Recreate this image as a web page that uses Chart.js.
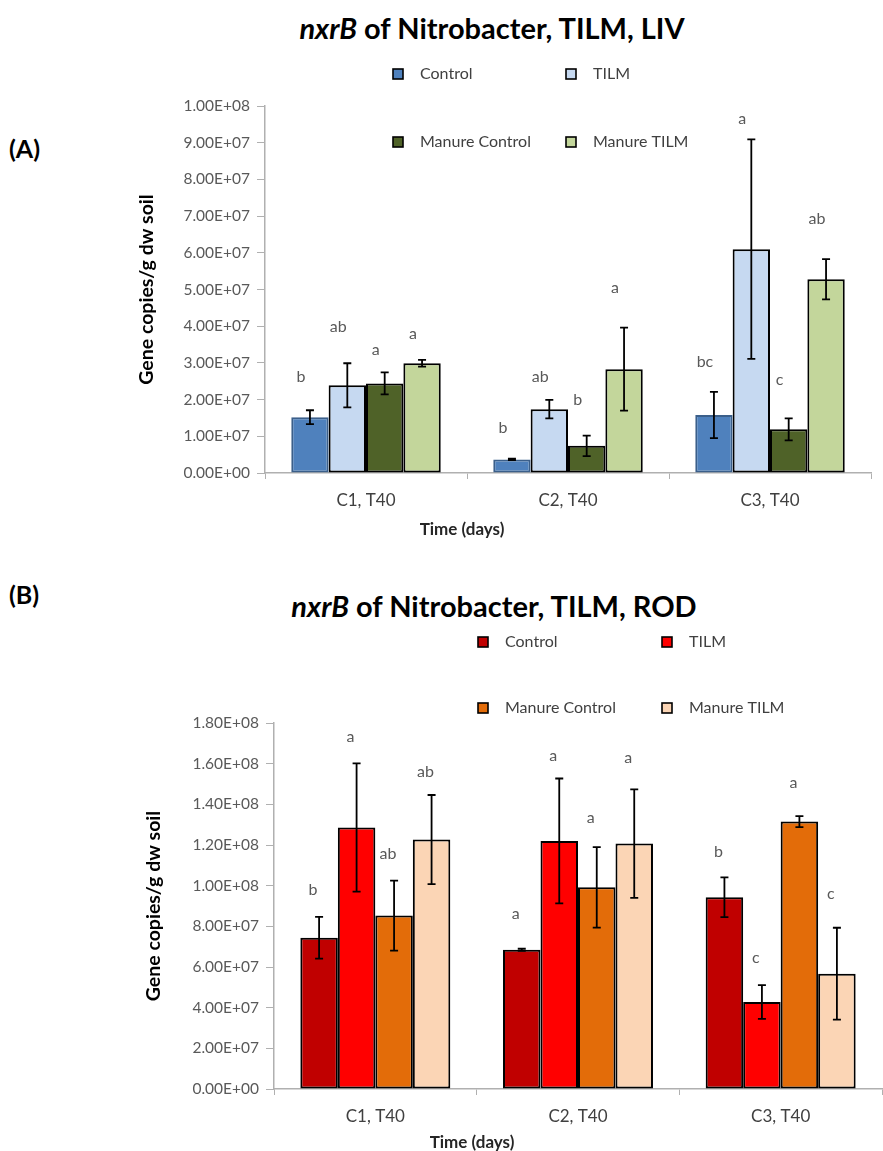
<!DOCTYPE html>
<html>
<head>
<meta charset="utf-8">
<script src="https://cdn.jsdelivr.net/npm/chart.js@4.4.1/dist/chart.umd.min.js"></script>
<style>
  body { margin: 0; background: #fff; width: 883px; height: 1151px; position: relative; overflow: hidden; font-family: Lato, 'Open Sans', sans-serif; }
  .wrap { position: absolute; left: 0; width: 883px; }
  #wrapA { top: 0; height: 560px; }
  #wrapB { top: 560px; height: 591px; }
  .title { position: absolute; font-weight: bold; font-size: 29px; color: #000; white-space: nowrap; transform: translate(-50%, -50%); }
  .panel { position: absolute; font-weight: bold; font-size: 25px; color: #000; transform: translateY(-50%); }
  .xtitle { position: absolute; font-weight: bold; font-size: 17px; color: #262626; white-space: nowrap; transform: translate(-50%, -50%); }
</style>
</head>
<body>
<div class="title" style="left:492px; top:27px;"><i>nxrB</i> of Nitrobacter, TILM, LIV</div>
<div class="panel" style="left:9px; top:148px;">(A)</div>
<div class="wrap" id="wrapA"><canvas id="chartA" width="883" height="560"></canvas></div>
<div class="xtitle" style="left:462px; top:528px;">Time (days)</div>

<div class="panel" style="left:9px; top:594px;">(B)</div>
<div class="title" style="left:494px; top:605px;"><i>nxrB</i> of Nitrobacter, TILM, ROD</div>
<div class="wrap" id="wrapB"><canvas id="chartB" width="883" height="591"></canvas></div>
<div class="xtitle" style="left:472px; top:1141px;">Time (days)</div>

<script>
const categories = ['C1, T40', 'C2, T40', 'C3, T40'];
const seriesNames = ['Control', 'TILM', 'Manure Control', 'Manure TILM'];

// (A) LIV - gene copies/g dw soil
const livControl = [1.52e7, 0.37e7, 1.58e7];
const livTilm = [2.39e7, 1.74e7, 6.10e7];
const livManureControl = [2.44e7, 0.74e7, 1.19e7];
const livManureTilm = [2.99e7, 2.83e7, 5.28e7];
const livControlErr = [0.19e7, 0.02e7, 0.63e7];
const livTilmErr = [0.60e7, 0.25e7, 2.99e7];
const livManureControlErr = [0.30e7, 0.28e7, 0.30e7];
const livManureTilmErr = [0.09e7, 1.13e7, 0.55e7];
const livControlLetters = ['b', 'b', 'bc'];
const livTilmLetters = ['ab', 'ab', 'a'];
const livManureControlLetters = ['a', 'b', 'c'];
const livManureTilmLetters = ['a', 'a', 'ab'];
const livControlLetterY = [2.62e7, 1.23e7, 3.02e7];
const livTilmLetterY = [3.98e7, 2.62e7, 9.65e7];
const livManureControlLetterY = [3.35e7, 1.99e7, 2.53e7];
const livManureTilmLetterY = [3.79e7, 5.04e7, 6.92e7];

// (B) ROD
const rodControl = [7.44e7, 6.85e7, 9.43e7];
const rodTilm = [12.86e7, 12.20e7, 4.28e7];
const rodManureControl = [8.53e7, 9.92e7, 13.15e7];
const rodManureTilm = [12.27e7, 12.07e7, 5.67e7];
const rodControlErr = [1.03e7, 0.05e7, 0.98e7];
const rodTilmErr = [3.15e7, 3.07e7, 0.83e7];
const rodManureControlErr = [1.72e7, 1.98e7, 0.27e7];
const rodManureTilmErr = [2.19e7, 2.67e7, 2.26e7];
const rodControlLetters = ['b', 'a', 'b'];
const rodTilmLetters = ['a', 'a', 'c'];
const rodManureControlLetters = ['ab', 'a', 'a'];
const rodManureTilmLetters = ['ab', 'a', 'c'];
const rodControlLetterY = [9.80e7, 8.63e7, 11.67e7];
const rodTilmLetterY = [17.30e7, 16.37e7, 6.47e7];
const rodManureControlLetterY = [11.57e7, 13.33e7, 15.05e7];
const rodManureTilmLetterY = [15.59e7, 16.27e7, 9.61e7];

const livColors = ['#4f81bd', '#c6d9f1', '#4f6228', '#c3d69b'];
const rodColors = ['#c00000', '#ff0000', '#e36c09', '#fbd5b5'];

const FONT = "Lato, 'Open Sans', sans-serif";

function sciLabel(value) {
    if (value === 0) return '0.00E+00';
    const exp = Math.floor(Math.log10(value) + 1e-9);
    const mant = value / Math.pow(10, exp);
    return mant.toFixed(2) + 'E+' + String(exp).padStart(2, '0');
}

const errorBars = {
    id: 'errorBars',
    afterDatasetsDraw(chart) {
        const ctx = chart.ctx;
        const y = chart.scales.y;
        ctx.save();
        ctx.strokeStyle = '#000';
        ctx.lineWidth = 1.8;
        chart.data.datasets.forEach((ds, i) => {
            chart.getDatasetMeta(i).data.forEach((bar, j) => {
                const top = y.getPixelForValue(ds.data[j] + ds.errors[j]);
                const bottom = y.getPixelForValue(ds.data[j] - ds.errors[j]);
                ctx.beginPath();
                ctx.moveTo(bar.x, top); ctx.lineTo(bar.x, bottom);
                ctx.moveTo(bar.x - 4, top); ctx.lineTo(bar.x + 4, top);
                ctx.moveTo(bar.x - 4, bottom); ctx.lineTo(bar.x + 4, bottom);
                ctx.stroke();
            });
        });
        ctx.restore();
    }
};

const letterLabels = {
    id: 'letterLabels',
    afterDraw(chart, args, opts) {
        const ctx = chart.ctx;
        const y = chart.scales.y;
        ctx.save();
        ctx.fillStyle = '#595959';
        ctx.font = '16px ' + FONT;
        ctx.textAlign = 'center';
        ctx.textBaseline = 'middle';
        chart.data.datasets.forEach((ds, i) => {
            chart.getDatasetMeta(i).data.forEach((bar, j) => {
                ctx.fillText(ds.letters[j], bar.x + opts.shift, y.getPixelForValue(ds.letterY[j]));
            });
        });
        ctx.restore();
    }
};

// two-by-two legend like the Excel original
const gridLegend = {
    id: 'gridLegend',
    afterDraw(chart, args, opts) {
        const ctx = chart.ctx;
        ctx.save();
        ctx.font = '16px ' + FONT;
        ctx.textBaseline = 'middle';
        chart.data.datasets.forEach((ds, i) => {
            const cx = opts.cols[i % 2];
            const cy = opts.rows[Math.floor(i / 2)];
            ctx.fillStyle = ds.backgroundColor;
            ctx.fillRect(cx - 5, cy - 5, 10, 10);
            ctx.strokeStyle = '#000';
            ctx.lineWidth = 1.6;
            ctx.strokeRect(cx - 5, cy - 5, 10, 10);
            ctx.fillStyle = '#404040';
            ctx.fillText(ds.label, cx + 22, cy);
        });
        ctx.restore();
    }
};

function makeDatasets(values, errors, letters, letterY, colors, firstBorder) {
    return values.map((vals, i) => ({
        label: seriesNames[i],
        data: vals,
        errors: errors[i],
        letters: letters[i],
        letterY: letterY[i],
        backgroundColor: colors[i],
        borderColor: i === 0 ? firstBorder : '#000',
        borderWidth: 2,
        borderSkipped: false,
        categoryPercentage: 0.74,
        barPercentage: 1.0
    }));
}

function buildChart(canvasId, datasets, cfg) {
    return new Chart(document.getElementById(canvasId), {
        type: 'bar',
        data: { labels: categories, datasets: datasets },
        plugins: [errorBars, letterLabels, gridLegend],
        options: {
            responsive: false,
            animation: false,
            layout: { padding: cfg.padding },
            plugins: {
                legend: { display: false },
                tooltip: { enabled: false },
                letterLabels: { shift: cfg.letterShift },
                gridLegend: { cols: cfg.legendCols, rows: cfg.legendRows }
            },
            scales: {
                x: {
                    afterFit: s => { s.height = 50; },
                    grid: { offset: true, drawOnChartArea: false, tickLength: 6, color: '#b0b0b0' },
                    border: { color: '#b0b0b0', width: 1.5 },
                    ticks: { color: '#404040', font: { family: FONT, size: 17 }, padding: 11 }
                },
                y: {
                    min: 0,
                    max: cfg.yMax,
                    afterFit: s => { s.width = cfg.yWidth; },
                    grid: { drawOnChartArea: false, tickLength: 8, color: '#b0b0b0' },
                    border: { color: '#b0b0b0', width: 1.5 },
                    ticks: {
                        stepSize: cfg.yStep,
                        color: '#595959',
                        font: { family: FONT, size: 15.5 },
                        padding: 7,
                        callback: v => sciLabel(v)
                    },
                    title: {
                        display: true,
                        text: 'Gene copies/g dw soil',
                        color: '#000',
                        font: { family: FONT, size: 19.5, weight: 'bold' },
                        padding: { top: cfg.yTitleX - 11.7, bottom: 0 }
                    }
                }
            }
        }
    });
}

buildChart('chartA',
    makeDatasets(
        [livControl, livTilm, livManureControl, livManureTilm],
        [livControlErr, livTilmErr, livManureControlErr, livManureTilmErr],
        [livControlLetters, livTilmLetters, livManureControlLetters, livManureTilmLetters],
        [livControlLetterY, livTilmLetterY, livManureControlLetterY, livManureTilmLetterY],
        livColors, '#3b5f8a'),
    {
        padding: { left: 0, top: 106, right: 12, bottom: 37 },
        yWidth: 265, yMax: 1e8, yStep: 1e7, yTitleX: 147, letterShift: -9,
        legendCols: [398, 571], legendRows: [74, 142]
    });

buildChart('chartB',
    makeDatasets(
        [rodControl, rodTilm, rodManureControl, rodManureTilm],
        [rodControlErr, rodTilmErr, rodManureControlErr, rodManureTilmErr],
        [rodControlLetters, rodTilmLetters, rodManureControlLetters, rodManureTilmLetters],
        [rodControlLetterY, rodTilmLetterY, rodManureControlLetterY, rodManureTilmLetterY],
        rodColors, '#000'),
    {
        padding: { left: 0, top: 163, right: 1, bottom: 12 },
        yWidth: 274, yMax: 1.8e8, yStep: 2e7, yTitleX: 154, letterShift: -6,
        legendCols: [483, 667], legendRows: [82, 148]
    });
</script>
</body>
</html>
